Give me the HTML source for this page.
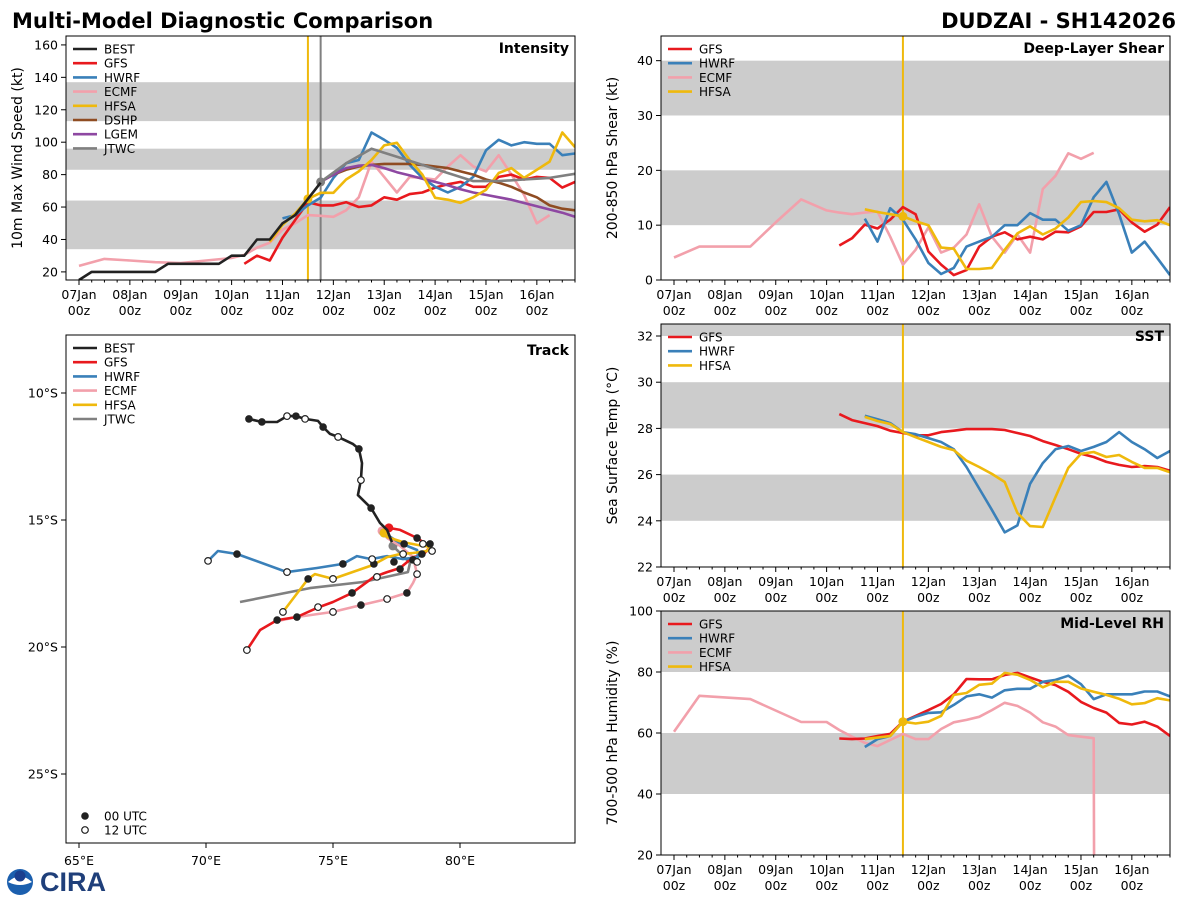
<!DOCTYPE html>
<html><head><meta charset="utf-8">
<style>
html,body{margin:0;padding:0;background:#fff;width:1200px;height:900px;overflow:hidden;}
svg{display:block;font-family:"DejaVu Sans","Liberation Sans",sans-serif;}
</style></head>
<body>
<svg id="fig" width="1200" height="900" viewBox="0 0 1200 900" xmlns="http://www.w3.org/2000/svg">
<text x="12" y="28" font-size="21" font-weight="bold" fill="#000">Multi-Model Diagnostic Comparison</text>
<text x="1176" y="28" font-size="21" font-weight="bold" fill="#000" text-anchor="end">DUDZAI - SH142026</text>
<g>
<circle cx="20" cy="882" r="13" fill="#1b5fae"/>
<path d="M8 882 Q20 871 32 882 Q20 888 8 882Z" fill="#fff"/>
<circle cx="20" cy="876" r="5.5" fill="#1b3f8e"/>
<text x="40" y="891" font-size="27" font-weight="bold" fill="#1f3f7a" font-family="Liberation Sans, sans-serif">CIRA</text>
</g>
</svg>
<script>
// ---------- DATA ----------
const dayLabels = ["07Jan","08Jan","09Jan","10Jan","11Jan","12Jan","13Jan","14Jan","15Jan","16Jan"];
const initHour = 108;
const jtwcHour = 114;

const bestHours = [0,6,12,18,24,30,36,42,48,54,60,66,72,78,84,90,96,102,108,114];
const bestVmax  = [15,20,20,20,20,20,20,25,25,25,25,25,30,30,40,40,50,55,65,75];
const gfsStart = 78;
const gfsVmax  = [25,30,27,41,52,63,61,61,63,60,61,66,64.5,68,69,72,74,75.5,72.5,72.5,78.6,80,77,78.6,78,72,75.5];
const hwrfStart = 96;
const hwrfVmax  = [53,55,61,65.7,78,87,89,106,101.5,96.5,86,78,72.5,69,72.5,78.6,95,101.5,98,100,99,99,92,93];
const hfsaStart = 90;
const hfsaVmax  = [38.5,49,56,65,68.8,68.8,77,82,89,98,99.6,89,80,65.7,64.5,62.6,66,70.6,81,84,78,83,88,106,97];
const ecmfHours = [0,12,24,36,48,60,72,78,84,90,96,102,108,114,120,126,132,138,144,150,156,162,168,174,180,186,192,198,204,210,216,222];
const ecmfVmax  = [23.7,28,27,26,25.5,27,28.6,30.5,35,38,46,50,55,54.6,54,58,66,88,78.6,69,78.6,78,77,85,92,85,82,92,80,67.5,50,55];
const dshpStart = 114;
const dshpVmax  = [75.5,80,83,85,86,86.6,86.6,86.6,86,85,84,82,80,77,75,72.5,69,66,61,59,58];
const lgemStart = 114;
const lgemVmax  = [75.5,80,84,85.5,86,84,81.5,79.5,77.5,75.5,73.5,71,69,67.5,66,64.5,62.5,60.5,58.5,56.5,54];
const jtwcHours = [114,126,138,150,162,174,186,198,210,222,234];
const jtwcVmax  = [75.5,87,96,91,86,81,76,76,77,78,80.5];

const shrGfsStart = 78;
const shrGfs  = [6.3,7.6,10.1,9.4,11,13.3,12,5.2,2.8,0.9,1.8,6.1,7.9,8.7,7.4,7.9,7.4,8.8,8.7,9.8,12.4,12.4,12.9,10.5,8.8,10.1,13.3];
const shrHwrfStart = 90;
const shrHwrf = [11.2,7,13.1,11,7.4,3.1,1.1,2.2,6.1,7,7.9,10,10,12.2,11,11,9,10,15.1,17.9,12,5,7,4,0.9];
const shrHfsaStart = 90;
const shrHfsa = [12.9,12.4,12,11.6,10.7,10,5.9,5.7,2,2,2.2,5.5,8.5,9.8,8.3,9.4,11.4,14.2,14.4,14.2,13.1,11,10.7,10.9,10];
const shrEcmfHours = [0,12,24,36,48,60,72,78,84,90,96,102,108,114,120,126,132,138,144,150,156,162,168,174,180,186,192,198];
const shrEcmf = [4.1,6.1,6.1,6.1,10.5,14.7,12.7,12.3,12,12.3,12.5,7.9,2.8,5.5,9.6,5,5.9,8.3,13.8,7.9,5,8.3,5,16.6,19,23.1,22.1,23.2];

const sstGfsStart = 78;
const sstGfs  = [28.62,28.36,28.23,28.1,27.9,27.8,27.7,27.7,27.84,27.9,27.97,27.97,27.97,27.93,27.8,27.67,27.45,27.28,27.1,26.9,26.76,26.55,26.42,26.33,26.37,26.33,26.17];
const sstHwrfStart = 90;
const sstHwrf = [28.55,28.4,28.23,27.84,27.75,27.58,27.41,27.1,26.33,25.4,24.47,23.5,23.8,25.6,26.5,27.1,27.24,27.02,27.2,27.41,27.84,27.41,27.1,26.72,27.02];
const sstHfsaStart = 90;
const sstHfsa = [28.5,28.32,28.19,27.84,27.62,27.41,27.2,27.06,26.6,26.33,26.03,25.68,24.34,23.77,23.73,25.03,26.29,26.9,26.98,26.76,26.85,26.55,26.29,26.29,26.1];

const rhGfsStart = 78;
const rhGfs  = [58.2,58,58.2,59,59.7,63.7,65.6,67.5,69.5,72.7,77.7,77.6,77.6,79,79.7,78.2,76.8,75.7,73.5,70.2,68.2,66.7,63.3,62.8,63.7,62.1,59];
const rhHwrfStart = 90;
const rhHwrf = [55.4,58,59,63.7,65.3,66.6,66.8,69.2,72,72.7,71.6,74,74.5,74.5,76.8,77.4,78.8,76,71.1,72.7,72.7,72.7,73.6,73.6,72];
const rhHfsaStart = 90;
const rhHfsa = [58,58.5,59,63.7,63.1,63.7,65.6,72.5,73.1,75.8,76.2,79.7,79.1,77.4,75,76.8,76.8,74.6,73.5,72.5,71.2,69.4,69.8,71.4,70.7];
const rhEcmfHours = [0,12,36,60,72,78,84,90,96,102,108,114,120,126,132,138,144,150,156,162,168,174,180,186,192,198,198.2];
const rhEcmf = [60.4,72.2,71.1,63.6,63.6,61,58.8,56.8,55.7,57.7,59.7,58,58,61.3,63.5,64.3,65.3,67.5,69.9,68.9,66.7,63.5,62.1,59.3,58.8,58.3,-400];

const trkBestLon = [71.69,72.2,72.8,73.19,73.54,73.9,74.41,74.61,74.88,75.2,75.79,76.02,76.14,76.1,75.98,76.5,76.85,77.13,77.32];
const trkBestLat = [-11.02,-11.14,-11.14,-10.91,-10.91,-11.02,-11.1,-11.34,-11.61,-11.73,-12.01,-12.2,-12.76,-13.43,-14.02,-14.53,-15.12,-15.39,-15.87];
const trkGfsLon = [77.2,77.64,78.31,78.82,78.54,78.15,77.64,77.13,76.61,75.75,75,74.37,73.58,72.8,72.13,71.61];
const trkGfsLat = [-15.31,-15.39,-15.71,-16.06,-16.38,-16.46,-16.89,-17.05,-17.24,-17.87,-18.23,-18.46,-18.82,-18.94,-19.33,-20.12];
const trkHwrfLon = [77.01,77.64,78.31,78.35,77.76,77.13,76.5,75.94,75.39,74.37,73.19,71.22,70.47,70.08];
const trkHwrfLat = [-15.51,-15.91,-16.18,-16.46,-16.54,-16.42,-16.54,-16.42,-16.73,-16.89,-17.05,-16.34,-16.22,-16.61];
const trkEcmfLon = [76.93,77.13,77.64,78.15,78.31,78.15,77.91,77.13,76.1,75,73.58,72.8];
const trkEcmfLat = [-15.43,-15.71,-16.02,-16.46,-17.13,-17.48,-17.87,-18.11,-18.35,-18.62,-18.82,-18.98];
const trkHfsaLon = [77.01,77.13,77.76,78.31,78.82,78.7,78.15,77.64,77.13,76.57,75,74.29,74.02,73.03];
const trkHfsaLat = [-15.51,-15.67,-15.87,-15.98,-16.06,-16.22,-16.3,-16.34,-16.46,-16.77,-17.32,-17.13,-17.32,-18.62];
const trkJtwcLon = [77.36,78.03,77.95,76.18,74.09,71.34];
const trkJtwcLat = [-16.02,-16.69,-17.05,-17.44,-17.68,-18.23];
const dot00Lon = [71.69,72.2,73.54,74.61,76.02,76.5,78.31,77.8,78.82,78.5,78.15,77.4,76.61,77.64,75.39,71.22,74.02,75.75,77.91,76.1,73.58,72.8];
const dot00Lat = [-11.02,-11.14,-10.91,-11.34,-12.2,-14.53,-15.71,-15.94,-15.94,-16.34,-16.57,-16.65,-16.73,-16.93,-16.73,-16.34,-17.32,-17.87,-17.87,-18.35,-18.82,-18.94];
const dot12Lon = [73.19,73.9,75.2,76.1,78.54,78.9,78.31,77.76,76.54,73.19,70.08,75,76.73,78.31,77.13,75,74.41,73.03,71.61];
const dot12Lat = [-10.91,-11.02,-11.73,-13.43,-15.94,-16.22,-16.65,-16.34,-16.54,-17.05,-16.61,-17.32,-17.24,-17.13,-18.11,-18.62,-18.43,-18.62,-20.12];
const lonTicks = [65,70,75,80];
const latTicks = [-10,-15,-20,-25];

// ---------- DRAWING ----------
const NS = "http://www.w3.org/2000/svg";
const fig = document.getElementById('fig');
const C = {BEST:"#222222",GFS:"#e8191e",HWRF:"#3a80b9",ECMF:"#f2a0ab",HFSA:"#efb90c",DSHP:"#8f4c22",LGEM:"#8e48a2",JTWC:"#808080"};
function el(tag, attrs, parent){const e=document.createElementNS(NS,tag);for(const k in attrs)e.setAttribute(k,attrs[k]);(parent||fig).appendChild(e);return e;}
function seq(start,n){const a=[];for(let i=0;i<n;i++)a.push(start+6*i);return a;}
let clipId=0;

function timePanel(o){
  const g=el('g',{});
  
  
  const W=o.x1-o.x0, H=o.y1-o.y0;
  const hmin=-6.13, hmax=234;
  const xs=h=>o.x0+(h-hmin)/(hmax-hmin)*W;
  const ys=v=>o.y1-(v-o.ymin)/(o.ymax-o.ymin)*H;
  const cid='clip'+(clipId++);
  const cp=el('clipPath',{id:cid},g); el('rect',{x:o.x0,y:o.y0,width:W,height:H},cp);
  o.bands.forEach(b=>{
    const r=el('rect',{x:o.x0,y:ys(Math.min(b[1],o.ymax)),width:W,height:ys(b[0])-ys(Math.min(b[1],o.ymax)),fill:"#cccccc"},g);
    
    
  });
  o.yticks.forEach(v=>{
    el('line',{x1:o.x0-5,x2:o.x0,y1:ys(v),y2:ys(v),stroke:"#000","stroke-width":1},g);
    const t=el('text',{x:o.x0-8,y:ys(v)+4.5,"font-size":12.5,"text-anchor":"end"},g); t.textContent=v;
    
    
  });
  for(let h=0;h<=hmax;h+=6){
    const major=h%24===0;
    el('line',{x1:xs(h),x2:xs(h),y1:o.y1,y2:o.y1+(major?5:2.5),stroke:"#000","stroke-width":1},g);
    if(major){
      const t=el('text',{x:xs(h),y:o.y1+19,"font-size":12.5,"text-anchor":"middle"},g); t.textContent=dayLabels[h/24];
      
      
      const t2=el('text',{x:xs(h),y:o.y1+35,"font-size":12.5,"text-anchor":"middle"},g); t2.textContent="00z";
      
      
    }
  }
  const yl=el('text',{transform:`translate(${o.x0-44},${(o.y0+o.y1)/2}) rotate(-90)`,"font-size":14,"text-anchor":"middle"},g); yl.textContent=o.ylabel;
  
  
  const lg=el('g',{"clip-path":`url(#${cid})`},g);
  o.vlines.forEach(v=>{
    const l=el('line',{x1:xs(v[0]),x2:xs(v[0]),y1:o.y0,y2:o.y1,stroke:v[1],"stroke-width":2},lg);
    
    
  });
  o.series.forEach(s=>{
    const pts=s.h.map((h,i)=>`${xs(h).toFixed(1)},${ys(Math.max(s.v[i],o.ymin-5)).toFixed(1)}`).join(' ');
    const p=el('polyline',{points:pts,fill:"none",stroke:C[s.k],"stroke-width":2.6,"stroke-linejoin":"round"},lg);
    
    
    if(s.dot!==undefined){
      const i=s.h.indexOf(s.dot);
      if(i>=0){const d=el('circle',{cx:xs(s.dot),cy:ys(s.v[i]),r:4.5,fill:C[s.k]},lg);
        
        }
    }
  });
  el('rect',{x:o.x0,y:o.y0,width:W,height:H,fill:"none",stroke:"#000","stroke-width":1},g);
  const tt=el('text',{x:o.x1-6,y:o.y0+17,"font-size":14,"font-weight":"bold","text-anchor":"end"},g); tt.textContent=o.title;
  
  
  legend(g,o.x0+7,o.y0+13,o.legendOrder);
}
function legend(g,x,y,ks){
  ks.forEach((k,i)=>{
    const yy=y+i*14.2;
    const l=el('line',{x1:x,x2:x+24,y1:yy,y2:yy,stroke:C[k],"stroke-width":2.6},g);
    
    
    const t=el('text',{x:x+31,y:yy+4.5,"font-size":12},g); t.textContent=k;
    
    
  });
}

timePanel({name:"intensity-panel",x0:66,y0:36,x1:575,y1:280,ymin:15,ymax:165.5,yticks:[20,40,60,80,100,120,140,160],
  bands:[[34,64],[83,96],[113,137]],title:"Intensity",ylabel:"10m Max Wind Speed (kt)",
  vlines:[[initHour,"#efb90c"],[jtwcHour,"#808080"]],
  legendOrder:["BEST","GFS","HWRF","ECMF","HFSA","DSHP","LGEM","JTWC"],
  series:[{k:"ECMF",h:ecmfHours,v:ecmfVmax},{k:"GFS",h:seq(gfsStart,gfsVmax.length),v:gfsVmax},
    {k:"HWRF",h:seq(hwrfStart,hwrfVmax.length),v:hwrfVmax},{k:"DSHP",h:seq(dshpStart,dshpVmax.length),v:dshpVmax},
    {k:"LGEM",h:seq(lgemStart,lgemVmax.length),v:lgemVmax},{k:"HFSA",h:seq(hfsaStart,hfsaVmax.length),v:hfsaVmax,dot:108},
    {k:"JTWC",h:jtwcHours,v:jtwcVmax,dot:114},{k:"BEST",h:bestHours,v:bestVmax}]});

timePanel({name:"shear-panel",x0:661,y0:36,x1:1170,y1:280,ymin:0,ymax:44.5,yticks:[0,10,20,30,40],
  bands:[[10,20],[30,40]],title:"Deep-Layer Shear",ylabel:"200-850 hPa Shear (kt)",
  vlines:[[initHour,"#efb90c"]],legendOrder:["GFS","HWRF","ECMF","HFSA"],
  series:[{k:"ECMF",h:shrEcmfHours,v:shrEcmf},{k:"GFS",h:seq(shrGfsStart,shrGfs.length),v:shrGfs},
    {k:"HWRF",h:seq(shrHwrfStart,shrHwrf.length),v:shrHwrf},{k:"HFSA",h:seq(shrHfsaStart,shrHfsa.length),v:shrHfsa,dot:108}]});

timePanel({name:"sst-panel",x0:661,y0:324,x1:1170,y1:567,ymin:22,ymax:32.52,yticks:[22,24,26,28,30,32],
  bands:[[24,26],[28,30],[32,32.52]],title:"SST",ylabel:"Sea Surface Temp (°C)",
  vlines:[[initHour,"#efb90c"]],legendOrder:["GFS","HWRF","HFSA"],
  series:[{k:"GFS",h:seq(sstGfsStart,sstGfs.length),v:sstGfs},
    {k:"HWRF",h:seq(sstHwrfStart,sstHwrf.length),v:sstHwrf},{k:"HFSA",h:seq(sstHfsaStart,sstHfsa.length),v:sstHfsa}]});

timePanel({name:"rh-panel",x0:661,y0:611,x1:1170,y1:855,ymin:20,ymax:100,yticks:[20,40,60,80,100],
  bands:[[40,60],[80,100]],title:"Mid-Level RH",ylabel:"700-500 hPa Humidity (%)",
  vlines:[[initHour,"#efb90c"]],legendOrder:["GFS","HWRF","ECMF","HFSA"],
  series:[{k:"ECMF",h:rhEcmfHours,v:rhEcmf},{k:"GFS",h:seq(rhGfsStart,rhGfs.length),v:rhGfs},
    {k:"HWRF",h:seq(rhHwrfStart,rhHwrf.length),v:rhHwrf},{k:"HFSA",h:seq(rhHfsaStart,rhHfsa.length),v:rhHfsa,dot:108}]});

(function(){
  const x0=66,y0=335,x1=575,y1=843;
  const g=el('g',{});
  
  
  const px=lon=>79+(lon-65)*25.4;
  const py=lat=>393+(-lat-10)*25.4;
  el('rect',{x:x0,y:y0,width:x1-x0,height:y1-y0,fill:"#fff"},g);
  lonTicks.forEach(v=>{
    el('line',{x1:px(v),x2:px(v),y1:y1,y2:y1+5,stroke:"#000"},g);
    const t=el('text',{x:px(v),y:y1+22,"font-size":12.5,"text-anchor":"middle"},g); t.textContent=v+"°E";
    
    
  });
  latTicks.forEach(v=>{
    el('line',{x1:x0-5,x2:x0,y1:py(v),y2:py(v),stroke:"#000"},g);
    const t=el('text',{x:x0-8,y:py(v)+4.5,"font-size":12.5,"text-anchor":"end"},g); t.textContent=(-v)+"°S";
    
    
  });
  const tracks=[["JTWC",trkJtwcLon,trkJtwcLat],["ECMF",trkEcmfLon,trkEcmfLat],["GFS",trkGfsLon,trkGfsLat],["HWRF",trkHwrfLon,trkHwrfLat],["HFSA",trkHfsaLon,trkHfsaLat],["BEST",trkBestLon,trkBestLat]];
  tracks.forEach(t=>{
    const pts=t[1].map((lo,i)=>`${px(lo).toFixed(1)},${py(t[2][i]).toFixed(1)}`).join(' ');
    const p=el('polyline',{points:pts,fill:"none",stroke:C[t[0]],"stroke-width":2.6,"stroke-linejoin":"round"},g);
    
    
    if(t[0]!=="BEST"){
      const d=el('circle',{cx:px(t[1][0]),cy:py(t[2][0]),r:4.5,fill:C[t[0]]},g);
      
      
    }
  });
  dot00Lon.forEach((lo,i)=>{
    const d=el('circle',{cx:px(lo),cy:py(dot00Lat[i]),r:3.8,fill:"#222"},g);
    
    
  });
  dot12Lon.forEach((lo,i)=>{
    const d=el('circle',{cx:px(lo),cy:py(dot12Lat[i]),r:3.3,fill:"#fff",stroke:"#222","stroke-width":1.2},g);
    
    
  });
  el('rect',{x:x0,y:y0,width:x1-x0,height:y1-y0,fill:"none",stroke:"#000"},g);
  const tt=el('text',{x:x1-6,y:y0+20,"font-size":14,"font-weight":"bold","text-anchor":"end"},g); tt.textContent="Track";
  
  
  legend(g,73,348,["BEST","GFS","HWRF","ECMF","HFSA","JTWC"]);
  const c1=el('circle',{cx:85,cy:816,r:3.8,fill:"#222"},g);
  
  
  const t1=el('text',{x:104,y:820.5,"font-size":12},g); t1.textContent="00 UTC";
  
  
  const c2=el('circle',{cx:85,cy:830,r:3.3,fill:"#fff",stroke:"#222","stroke-width":1.2},g);
  
  
  const t2=el('text',{x:104,y:834.5,"font-size":12},g); t2.textContent="12 UTC";
  
  
})();
</script>
</body></html>
